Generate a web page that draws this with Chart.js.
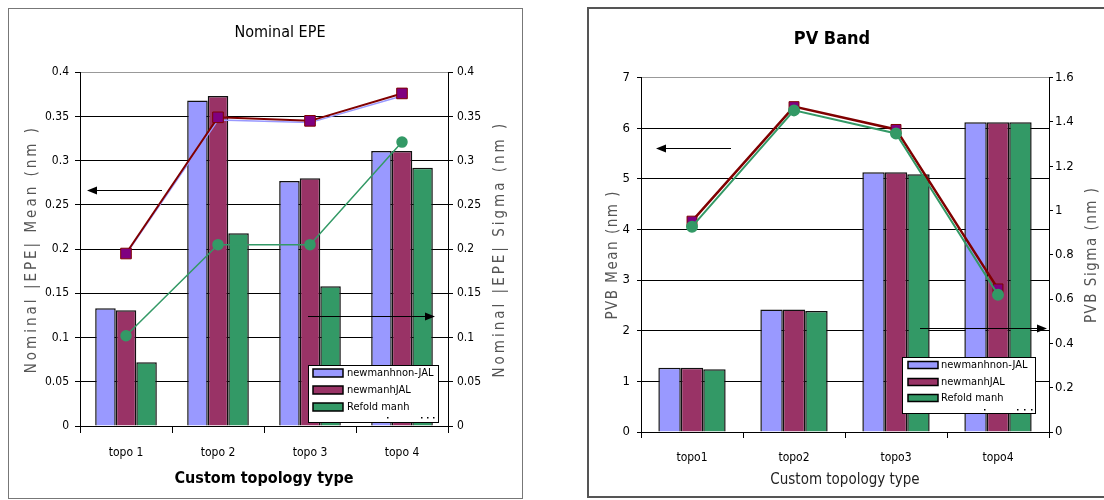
<!DOCTYPE html>
<html>
<head>
<meta charset="utf-8">
<script src="https://cdn.jsdelivr.net/npm/chart.js@4.4.1/dist/chart.umd.min.js"></script>
<style>
  html, body { margin: 0; padding: 0; background: #fff; }
  body { width: 1104px; height: 500px; position: relative; overflow: hidden; }
  .frame { position: absolute; box-sizing: border-box; }
  #frameL { left: 8px; top: 8px; width: 515px; height: 491px; border: 1px solid #777; }
  #frameR { left: 587px; top: 7px; width: 540px; height: 491px; border: 2px solid #555; }
  canvas { position: absolute; top: 0; }
  #epe { left: 0; }
  #pvb { left: 560px; }
</style>
</head>
<body>
<div class="frame" id="frameL"></div>
<div class="frame" id="frameR"></div>
<canvas id="epe" width="560" height="500"></canvas>
<canvas id="pvb" width="544" height="500"></canvas>
<script>
// categories and series names
const epeLabels = ['topo 1', 'topo 2', 'topo 3', 'topo 4'];
const pvbLabels = ['topo1', 'topo2', 'topo3', 'topo4'];
const seriesNames = ['newmanhnon-JAL', 'newmanhJAL', 'Refold manh'];

// Nominal EPE: bars = mean (left axis), lines = sigma (right axis)
const epeMeanNonJal = [0.133, 0.368, 0.277, 0.311];
const epeMeanJal    = [0.131, 0.373, 0.280, 0.311];
const epeMeanRefold = [0.072, 0.218, 0.158, 0.292];
const epeSigmaNonJal = [0.194, 0.346, 0.343, 0.373];
const epeSigmaJal    = [0.195, 0.349, 0.345, 0.376];
const epeSigmaRefold = [0.102, 0.205, 0.205, 0.321];

// PV Band: bars = mean (left axis), lines = sigma (right axis)
const pvbMeanNonJal = [1.27, 2.42, 5.13, 6.12];
const pvbMeanJal    = [1.27, 2.42, 5.13, 6.12];
const pvbMeanRefold = [1.24, 2.39, 5.09, 6.12];
const pvbSigmaJal    = [0.952, 1.469, 1.366, 0.646];
const pvbSigmaRefold = [0.927, 1.452, 1.348, 0.620];

// axis ranges / tick steps
const epeAxis = { min: 0, max: 0.4, step: 0.05 };
const pvbMeanAxis = { min: 0, max: 7, step: 1 };
const pvbSigmaAxis = { min: 0, max: 1.6, step: 0.2 };

const BLUE = '#9999FF', MAROON = '#993366', GREEN = '#339966';
const NARROW = "'Liberation Sans Narrow', 'DejaVu Sans Condensed', 'Liberation Sans', sans-serif";

Chart.defaults.font.family = NARROW;
Chart.defaults.color = '#000';

const fmt = v => String(+v.toFixed(2));

function bar(label, data, color, catPct) {
  return { type: 'bar', label, data, backgroundColor: color, borderColor: '#111',
    borderWidth: 1.5, borderSkipped: 'bottom', yAxisID: 'y', order: 10,
    barPercentage: 1.0, categoryPercentage: catPct };
}

// arrows, in-plot legend and letter-spaced axis titles
const decor = {
  id: 'decor',
  afterDraw(chart, args, o) {
    const ctx = chart.ctx;
    const area = chart.chartArea;
    ctx.save();

    ctx.strokeStyle = '#000';
    ctx.fillStyle = '#000';
    ctx.lineWidth = 1;
    o.arrows.forEach(a => {
      const dir = Math.sign(a.x2 - a.x1);
      ctx.beginPath();
      ctx.moveTo(a.x1, a.y + 0.5);
      ctx.lineTo(a.x2 - dir * 6, a.y + 0.5);
      ctx.stroke();
      ctx.beginPath();
      ctx.moveTo(a.x2, a.y + 0.5);
      ctx.lineTo(a.x2 - dir * 10, a.y - 3.5);
      ctx.lineTo(a.x2 - dir * 10, a.y + 4.5);
      ctx.closePath();
      ctx.fill();
    });

    const L = o.legend;
    ctx.fillStyle = '#fff';
    ctx.fillRect(L.x, L.y, L.w, L.h);
    ctx.strokeStyle = '#000';
    ctx.strokeRect(L.x + 0.5, L.y + 0.5, L.w, L.h);
    const bars = chart.data.datasets.filter(d => d.type === 'bar');
    ctx.font = L.font;
    ctx.textBaseline = 'middle';
    ctx.textAlign = 'left';
    bars.forEach((d, i) => {
      const cy = L.rows[i];
      ctx.fillStyle = d.backgroundColor;
      ctx.fillRect(L.swX, cy - L.swH / 2, L.swW, L.swH);
      ctx.strokeStyle = '#000';
      ctx.lineWidth = 1.5;
      ctx.strokeRect(L.swX, cy - L.swH / 2, L.swW, L.swH);
      ctx.fillStyle = '#000';
      ctx.fillText(d.label, L.textX, cy);
    });
    ctx.fillStyle = '#000';
    L.dots.forEach(p => ctx.fillRect(p[0], p[1], 1.5, 1.5));

    ctx.fillStyle = '#555';
    const cy = (area.top + area.bottom) / 2;
    o.titles.forEach(t => {
      ctx.save();
      ctx.translate(t.x, cy);
      ctx.rotate(-Math.PI / 2);
      ctx.font = t.font;
      ctx.letterSpacing = t.spacing;
      ctx.textAlign = 'center';
      ctx.textBaseline = 'middle';
      ctx.fillText(t.text, 0, 0);
      ctx.restore();
    });
    ctx.restore();
  }
};

function gridColor(max) {
  return c => (c.tick && Math.abs(c.tick.value - max) < 1e-9) ? '#999' : '#000';
}

// ---------- Nominal EPE ----------
new Chart(document.getElementById('epe'), {
  type: 'bar',
  data: {
    labels: epeLabels,
    datasets: [
      bar(seriesNames[0], epeMeanNonJal, BLUE, 0.67),
      bar(seriesNames[1], epeMeanJal, MAROON, 0.67),
      bar(seriesNames[2], epeMeanRefold, GREEN, 0.67),
      { type: 'line', label: seriesNames[0] + ' sigma', data: epeSigmaNonJal, yAxisID: 'y1', order: 3,
        borderColor: BLUE, borderWidth: 1.5, pointRadius: 0, tension: 0 },
      { type: 'line', label: seriesNames[1] + ' sigma', data: epeSigmaJal, yAxisID: 'y1', order: 2,
        borderColor: '#800000', borderWidth: 2, tension: 0,
        pointStyle: 'rect', pointRadius: 7.5, pointBackgroundColor: '#800080', pointBorderColor: '#800000', pointBorderWidth: 1 },
      { type: 'line', label: seriesNames[2] + ' sigma', data: epeSigmaRefold, yAxisID: 'y1', order: 1,
        borderColor: GREEN, borderWidth: 1.5, tension: 0,
        pointStyle: 'circle', pointRadius: 5, pointBackgroundColor: GREEN, pointBorderColor: GREEN }
    ]
  },
  options: {
    responsive: false,
    animation: false,
    layout: { padding: 0 },
    plugins: {
      legend: { display: false },
      tooltip: { enabled: false },
      title: { display: true, text: 'Nominal EPE', color: '#000',
        font: { size: 16, weight: 'normal' }, padding: { top: 23, bottom: 30 } },
      decor: {
        arrows: [ { x1: 162, x2: 87, y: 190 }, { x1: 308, x2: 435, y: 316 } ],
        legend: { x: 308, y: 365, w: 130, h: 57, rows: [373, 390, 407], swX: 313, swW: 30, swH: 8,
          textX: 347, font: '11px ' + NARROW,
          dots: [[387, 417], [421, 417], [427, 417], [433, 417]] },
        titles: [
          { x: 32, text: 'Nominal |EPE| Mean (nm )', font: '15px ' + NARROW, spacing: '3px' },
          { x: 500, text: 'Nominal |EPE| Sigma (nm )', font: '15px ' + NARROW, spacing: '3px' }
        ]
      }
    },
    scales: {
      x: {
        offset: true,
        grid: { display: true, offset: true, drawOnChartArea: false, drawTicks: true, tickLength: 7, color: '#000' },
        border: { display: true, color: '#000', width: 1 },
        ticks: { font: { size: 12 }, padding: 13, maxRotation: 0, color: '#000' },
        title: { display: true, text: 'Custom topology type', color: '#000',
          font: { size: 16, weight: 'bold' }, padding: { top: 0, bottom: 12 } },
        afterFit: s => { s.height = 74; }
      },
      y: {
        position: 'left', min: epeAxis.min, max: epeAxis.max,
        ticks: { stepSize: epeAxis.step, callback: fmt, font: { size: 12 }, padding: 6, color: '#000' },
        grid: { color: gridColor(epeAxis.max), tickColor: '#000', tickLength: 5, lineWidth: 1 },
        border: { color: '#000' },
        afterFit: s => { s.width = 80; }
      },
      y1: {
        position: 'right', min: epeAxis.min, max: epeAxis.max,
        ticks: { stepSize: epeAxis.step, callback: fmt, font: { size: 12 }, padding: 4, color: '#000' },
        grid: { drawOnChartArea: false, color: '#000', tickLength: 5 },
        border: { color: '#000' },
        afterFit: s => { s.width = 112; }
      }
    }
  },
  plugins: [decor]
});

// ---------- PV Band ----------
new Chart(document.getElementById('pvb'), {
  type: 'bar',
  data: {
    labels: pvbLabels,
    datasets: [
      bar(seriesNames[0], pvbMeanNonJal, BLUE, 0.66),
      bar(seriesNames[1], pvbMeanJal, MAROON, 0.66),
      bar(seriesNames[2], pvbMeanRefold, GREEN, 0.66),
      { type: 'line', label: seriesNames[1] + ' sigma', data: pvbSigmaJal, yAxisID: 'y1', order: 2,
        borderColor: '#800000', borderWidth: 2.5, tension: 0,
        pointStyle: 'rect', pointRadius: 7, pointBackgroundColor: '#800080', pointBorderColor: '#800000', pointBorderWidth: 1 },
      { type: 'line', label: seriesNames[2] + ' sigma', data: pvbSigmaRefold, yAxisID: 'y1', order: 1,
        borderColor: GREEN, borderWidth: 2, tension: 0,
        pointStyle: 'circle', pointRadius: 5, pointBackgroundColor: GREEN, pointBorderColor: GREEN }
    ]
  },
  options: {
    responsive: false,
    animation: false,
    layout: { padding: 0 },
    plugins: {
      legend: { display: false },
      tooltip: { enabled: false },
      title: { display: true, text: 'PV Band', color: '#000',
        font: { size: 18, weight: 'bold' }, padding: { top: 29, bottom: 27 } },
      decor: {
        arrows: [ { x1: 171, x2: 96, y: 148 }, { x1: 360, x2: 487, y: 328 } ],
        legend: { x: 342, y: 357, w: 133, h: 56, rows: [365, 382, 398], swX: 348, swW: 30, swH: 7,
          textX: 381, font: '11px ' + NARROW,
          dots: [[424, 409], [457, 409], [464, 409], [471, 409]] },
        titles: [
          { x: 53, text: 'PVB Mean (nm )', font: '15px ' + NARROW, spacing: '1.5px' },
          { x: 532, text: 'PVB Sigma (nm )', font: '15px ' + NARROW, spacing: '1.5px' }
        ]
      }
    },
    scales: {
      x: {
        offset: true,
        grid: { display: true, offset: true, drawOnChartArea: false, drawTicks: true, tickLength: 6, color: '#000' },
        border: { display: true, color: '#000', width: 1 },
        ticks: { font: { size: 12 }, padding: 13, maxRotation: 0, color: '#000' },
        title: { display: true, text: 'Custom topology type', color: '#222',
          font: { size: 15, weight: 'normal' }, padding: { top: 0, bottom: 11 } },
        afterFit: s => { s.height = 68; }
      },
      y: {
        position: 'left', min: pvbMeanAxis.min, max: pvbMeanAxis.max,
        ticks: { stepSize: pvbMeanAxis.step, callback: fmt, font: { size: 13 }, padding: 7, color: '#000' },
        grid: { color: gridColor(pvbMeanAxis.max), tickColor: '#000', tickLength: 4, lineWidth: 1 },
        border: { color: '#000' },
        afterFit: s => { s.width = 81; }
      },
      y1: {
        position: 'right', min: pvbSigmaAxis.min, max: pvbSigmaAxis.max,
        ticks: { stepSize: pvbSigmaAxis.step, callback: fmt, font: { size: 13 }, padding: 2, color: '#000' },
        grid: { drawOnChartArea: false, color: '#000', tickLength: 4 },
        border: { color: '#000' },
        afterFit: s => { s.width = 55; }
      }
    }
  },
  plugins: [decor]
});
</script>
</body>
</html>
